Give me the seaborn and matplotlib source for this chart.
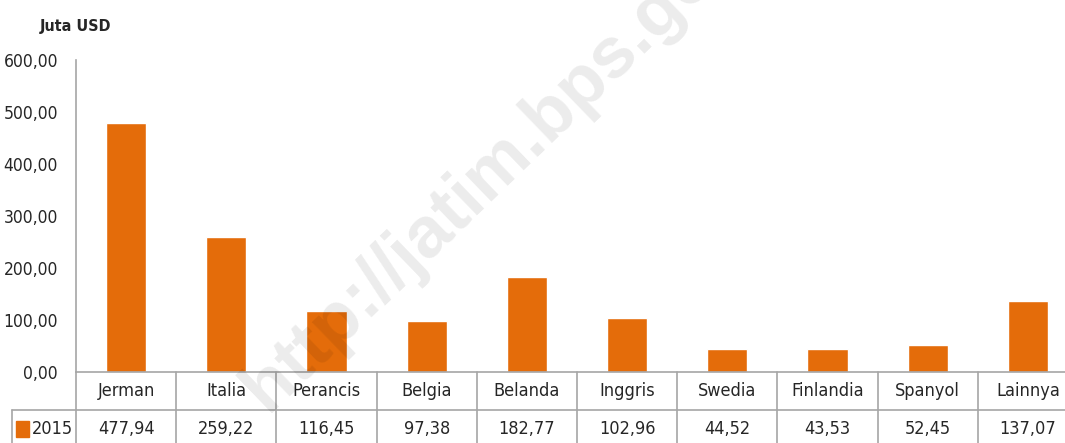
import numpy as np
import pandas as pd
import matplotlib
matplotlib.use("Agg")
import matplotlib.pyplot as plt
from matplotlib.patches import Rectangle
import seaborn as sns

# data
negara = ["Jerman", "Italia", "Perancis", "Belgia", "Belanda",
          "Inggris", "Swedia", "Finlandia", "Spanyol", "Lainnya"]
nilai_2015 = [477.94, 259.22, 116.45, 97.38, 182.77,
              102.96, 44.52, 43.53, 52.45, 137.07]
y_ticks = [0, 100, 200, 300, 400, 500, 600]
tahun = "2015"

df = pd.DataFrame({"negara": negara, "nilai": nilai_2015})

sns.set_style("white")
plt.rcParams["font.family"] = ["DejaVu Sans"]
plt.rcParams["font.stretch"] = "condensed"

ORANGE = "#E46C0A"
LINE = "#a6a6a6"

fig = plt.figure(figsize=(10.65, 4.43), dpi=100)
W, H = 1065, 443
# axes: x 76..1078 px, y 60..372 px
ax = fig.add_axes([76 / W, 1 - 372 / H, 1002 / W, 312 / H])

sns.barplot(data=df, x="negara", y="nilai", color=ORANGE, width=0.4,
            saturation=1, ax=ax)
ax.set_xlim(-0.5, len(negara) - 0.5)
ax.set_ylim(0, 600)
ax.set_yticks(y_ticks)
ax.set_yticklabels([f"{v:.2f}".replace(".", ",") for v in y_ticks], fontsize=12.5)
ax.tick_params(axis="y", length=0, pad=13)
ax.set_xticks([])
ax.set_xlabel("")
ax.set_ylabel("")
for s in ["top", "right"]:
    ax.spines[s].set_visible(False)
for s in ["left", "bottom"]:
    ax.spines[s].set_color(LINE)
    ax.spines[s].set_linewidth(1.2)

# data table below the axis
rh = 38 / 312
xt = ax.get_xaxis_transform()
lbl_w = 0.64
for i, (n, v) in enumerate(zip(negara, nilai_2015)):
    ax.text(i, -rh / 2, n, transform=xt, ha="center", va="center",
            fontsize=13, clip_on=False)
    ax.text(i, -1.5 * rh, f"{v:.2f}".replace(".", ","), transform=xt,
            ha="center", va="center", fontsize=13, clip_on=False)
for k in range(len(negara) + 1):
    ax.plot([k - 0.5, k - 0.5], [0, -2.2 * rh], transform=xt, color=LINE,
            lw=1.2, clip_on=False)
ax.plot([-0.5 - lbl_w, len(negara) - 0.5], [-rh, -rh], transform=xt,
        color=LINE, lw=1.2, clip_on=False)
ax.plot([-0.5 - lbl_w, -0.5 - lbl_w], [-rh, -2.2 * rh], transform=xt,
        color=LINE, lw=1.2, clip_on=False)

# row label with legend key
ax.add_patch(Rectangle((-0.5 - lbl_w + 0.04, -1.5 * rh - 0.027), 0.13, 0.052,
                       transform=xt, color=ORANGE, clip_on=False))
ax.text(-0.5 - lbl_w + 0.2, -1.5 * rh, tahun, transform=xt, ha="left",
        va="center", fontsize=13, clip_on=False)

fig.text(40 / W, 1 - 26 / H, "Juta USD", fontsize=11.5, fontweight="bold",
         ha="left", va="center")

# watermark
fig.text(0.479, 0.655, "http://jatim.bps.go.id", rotation=44,
         ha="center", va="center", fontsize=52, fontweight="bold",
         family="Liberation Sans", fontstretch="normal", color="black",
         alpha=0.08, zorder=10)

fig.savefig("out.png", dpi=100)
